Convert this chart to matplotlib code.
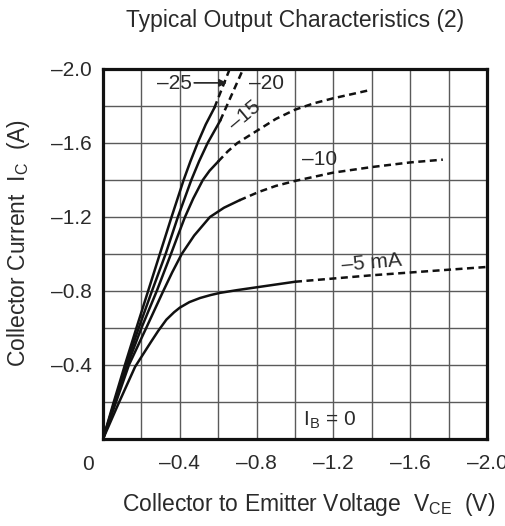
import matplotlib
matplotlib.use("Agg")
import matplotlib.pyplot as plt
import numpy as np

plt.rcParams['font.family'] = ['Liberation Sans', 'DejaVu Sans']

# Curves: (VCE [V], IC [A]); solid part then dashed part
ib25_solid_v = [0, -0.056, -0.114, -0.174, -0.235, -0.296, -0.357, -0.42, -0.455, -0.493, -0.535, -0.58]
ib25_solid_i = [0, -0.2, -0.4, -0.6, -0.8, -1.0, -1.2, -1.4, -1.5, -1.6, -1.7, -1.79]
ib25_dash_v = [-0.58, -0.62, -0.66]
ib25_dash_i = [-1.79, -1.895, -2.0]

ib20_solid_v = [0, -0.06, -0.12, -0.186, -0.255, -0.326, -0.39, -0.46, -0.5, -0.545, -0.61]
ib20_solid_i = [0, -0.2, -0.4, -0.6, -0.8, -1.0, -1.2, -1.4, -1.5, -1.6, -1.72]
ib20_dash_v = [-0.61, -0.67, -0.73]
ib20_dash_i = [-1.72, -1.86, -2.0]

ib15_solid_v = [0, -0.063, -0.127, -0.2, -0.28, -0.354, -0.39, -0.427, -0.47, -0.52, -0.555, -0.60]
ib15_solid_i = [0, -0.2, -0.4, -0.6, -0.8, -1.0, -1.1, -1.2, -1.3, -1.4, -1.45, -1.50]
ib15_dash_v = [-0.60, -0.65, -0.70, -0.80, -0.90, -1.0, -1.1, -1.2, -1.3, -1.39]
ib15_dash_i = [-1.50, -1.555, -1.60, -1.665, -1.73, -1.78, -1.815, -1.842, -1.865, -1.886]

ib10_solid_v = [0, -0.068, -0.135, -0.225, -0.314, -0.36, -0.41, -0.475, -0.557, -0.63, -0.71]
ib10_solid_i = [0, -0.2, -0.4, -0.6, -0.8, -0.9, -1.0, -1.1, -1.2, -1.25, -1.29]
ib10_dash_v = [-0.71, -0.81, -0.9, -1.0, -1.2, -1.4, -1.6, -1.77]
ib10_dash_i = [-1.29, -1.335, -1.368, -1.395, -1.44, -1.47, -1.495, -1.51]

ib5_solid_v = [0, -0.08, -0.167, -0.21, -0.25, -0.288, -0.33, -0.37, -0.40, -0.45,
               -0.505, -0.56, -0.61, -0.7, -0.8, -0.9, -1.0]
ib5_solid_i = [0, -0.19, -0.39, -0.46, -0.525, -0.585, -0.645, -0.685, -0.71, -0.74,
               -0.762, -0.778, -0.79, -0.805, -0.82, -0.835, -0.85]
ib5_dash_v = [-1.0, -1.4, -2.0]
ib5_dash_i = [-0.85, -0.885, -0.93]

x_ticks = [-0.4, -0.8, -1.2, -1.6, -2.0]
x_labels = ['\u20130.4', '\u20130.8', '\u20131.2', '\u20131.6', '\u20132.0']
y_ticks = [-0.4, -0.8, -1.2, -1.6, -2.0]
y_labels = ['\u20130.4', '\u20130.8', '\u20131.2', '\u20131.6', '\u20132.0']

txt = '#2a2a2a'
TS = 15
fig = plt.figure(figsize=(5.06, 5.26), dpi=100)
ax = fig.add_axes([103/506, 1-439/526, 384/506, 370/526])
ax.set_xlim(0, -2.0)
ax.set_ylim(0, -2.0)

# grid every 0.2
ax.set_xticks(np.arange(0, -2.01, -0.2), minor=True)
ax.set_yticks(np.arange(0, -2.01, -0.2), minor=True)
ax.grid(which='both', color='#5a5a5a', lw=1.0)
ax.set_axisbelow(True)

for sv, si, dv, di in [(ib25_solid_v, ib25_solid_i, ib25_dash_v, ib25_dash_i),
                       (ib20_solid_v, ib20_solid_i, ib20_dash_v, ib20_dash_i),
                       (ib15_solid_v, ib15_solid_i, ib15_dash_v, ib15_dash_i),
                       (ib10_solid_v, ib10_solid_i, ib10_dash_v, ib10_dash_i),
                       (ib5_solid_v, ib5_solid_i, ib5_dash_v, ib5_dash_i)]:
    ax.plot(sv, si, color='#111111', lw=1.8, solid_joinstyle='round')
    ax.plot(dv, di, color='#111111', lw=1.8, dashes=(2.8, 1.8))

for s in ax.spines.values():
    s.set_linewidth(2.3)
    s.set_color('#111111')

ax.set_xticks(x_ticks)
ax.set_xticklabels(x_labels)
ax.set_yticks(y_ticks)
ax.set_yticklabels(y_labels)
ax.tick_params(which='both', length=0, labelsize=TS, colors=txt)
ax.tick_params(axis='x', pad=11)
ax.tick_params(axis='y', pad=8)
ax.text(-0.039, -0.07, '0', transform=ax.transAxes, ha='center', va='center',
        fontsize=TS, color=txt)

# annotations
ax.text(-0.37, -1.92, '\u201325', ha='center', va='center', fontsize=TS, color=txt)
ax.annotate('', xy=(-0.645, -1.925), xytext=(-0.475, -1.925),
            arrowprops=dict(arrowstyle='-|>', color='#222222', lw=1.2, shrinkA=0, shrinkB=0,
                            mutation_scale=11))
ax.text(-0.85, -1.92, '\u201320', ha='center', va='center', fontsize=TS, color=txt)
ax.text(-0.74, -1.75, '\u201315', ha='center', va='center', fontsize=TS, color=txt, rotation=40)
ax.text(-1.13, -1.51, '\u201310', ha='center', va='center', fontsize=TS, color=txt)
ax.text(-1.40, -0.95, '\u20135 mA', ha='center', va='center', fontsize=TS, color=txt, rotation=5)
ax.text(-1.18, -0.10, 'I$_\\mathregular{B}$ = 0', ha='center', va='center', fontsize=TS, color=txt)

fig.text(295/506, 1-21/526, 'Typical Output Characteristics (2)', ha='center', va='center',
         fontsize=16.5, color=txt)
fig.text(309/506, 1-505/526, 'Collector to Emitter Voltage  V$_\\mathregular{CE}$  (V)', ha='center',
         va='center', fontsize=16.5, color=txt)
fig.text(19/506, 1-243/526, 'Collector Current  I$_\\mathregular{C}$  (A)', ha='center', va='center',
         rotation=90, fontsize=16.5, color=txt)

fig.savefig('out.png', dpi=100)
